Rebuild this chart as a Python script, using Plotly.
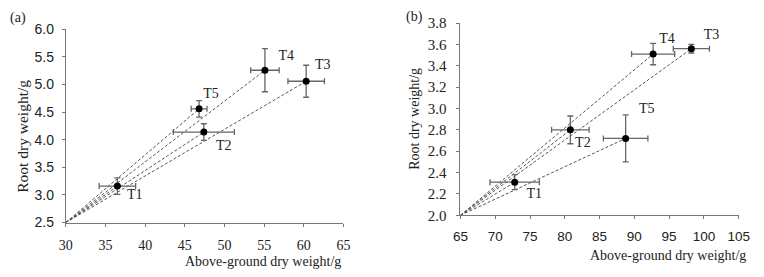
import plotly.graph_objects as go

treatments = ["T1", "T2", "T3", "T4", "T5"]

# Panel (a)
a_x = [36.5, 47.4, 60.3, 55.1, 46.8]
a_y = [3.16, 4.14, 5.06, 5.26, 4.56]
a_xerr = [2.3, 3.85, 2.3, 1.8, 1.0]
a_yerr = [0.15, 0.15, 0.29, 0.39, 0.15]
a_origin = [30, 2.5]
a_lab_x = [38.7, 49.9, 62.4, 57.8, 48.3]
a_lab_y = [2.99, 3.88, 5.35, 5.50, 4.82]

# Panel (b)
b_x = [72.8, 80.8, 98.2, 92.7, 88.75]
b_y = [2.31, 2.80, 3.56, 3.51, 2.72]
b_xerr = [3.55, 2.7, 2.6, 3.1, 3.2]
b_yerr = [0.07, 0.13, 0.04, 0.10, 0.22]
b_origin = [65, 2.0]
b_lab_x = [75.6, 82.6, 101.1, 94.7, 91.8]
b_lab_y = [2.19, 2.67, 3.68, 3.65, 2.99]

W, H = 764, 277
fig = go.Figure()

def add_panel(xs, ys, xe, ye, origin, lx, ly, xa, ya):
    for x, y in zip(xs, ys):
        fig.add_trace(go.Scatter(x=[origin[0], x], y=[origin[1], y], mode="lines",
                                 line=dict(color="#555555", width=1, dash="3px,2px"),
                                 xaxis=xa, yaxis=ya, showlegend=False, hoverinfo="skip"))
    fig.add_trace(go.Scatter(x=xs, y=ys, mode="markers",
                             marker=dict(color="black", size=7),
                             error_x=dict(type="data", array=xe, color="#666666", thickness=1.3, width=3),
                             error_y=dict(type="data", array=ye, color="#666666", thickness=1.3, width=3),
                             xaxis=xa, yaxis=ya, showlegend=False))
    fig.add_trace(go.Scatter(x=lx, y=ly, mode="text", text=treatments,
                             textfont=dict(family="Liberation Serif", size=14, color="#222222"),
                             xaxis=xa, yaxis=ya, showlegend=False, hoverinfo="skip"))

add_panel(a_x, a_y, a_xerr, a_yerr, a_origin, a_lab_x, a_lab_y, "x", "y")
add_panel(b_x, b_y, b_xerr, b_yerr, b_origin, b_lab_x, b_lab_y, "x2", "y2")

axis_common = dict(showgrid=False, zeroline=False, showline=True, linecolor="#777777",
                   linewidth=1, ticks="outside", ticklen=3, tickcolor="#777777")

sans = "Liberation Sans"
serif = "Liberation Serif"

fig.update_layout(
    width=W, height=H, margin=dict(l=0, r=0, t=0, b=0),
    plot_bgcolor="white", paper_bgcolor="white",
    xaxis=dict(domain=[59.3 / W, 344 / W], range=[30, 65], dtick=5, anchor="y",
               ticklabelstandoff=7,
               tickfont=dict(family=serif, size=14, color="#222222"), **axis_common),
    yaxis=dict(domain=[1 - 227.7 / H, 1 - 22.7 / H], range=[2.5, 6.0], dtick=0.5, anchor="x",
               ticklabelstandoff=5,
               tickformat=".1f", tickfont=dict(family=sans, size=14, color="#222222"), **axis_common),
    xaxis2=dict(domain=[464 / W, 749.3 / W], range=[65, 105], dtick=5, anchor="y2",
                ticklabelstandoff=6,
                tickfont=dict(family=sans, size=13.5, color="#222222"), **axis_common),
    yaxis2=dict(domain=[1 - 220 / H, 1 - 16 / H], range=[2.0, 3.8], dtick=0.2, anchor="x2",
                ticklabelstandoff=7,
                tickformat=".1f", tickfont=dict(family=serif, size=15, color="#222222"), **axis_common),
)

ann_font = dict(family=serif, size=14, color="#222222")
annotations = [
    dict(text="(a)", x=0 / W, y=1 - 11 / H, xanchor="left", yanchor="middle", font=ann_font),
    dict(text="(b)", x=406 / W, y=1 - 10 / H, xanchor="left", yanchor="middle", font=ann_font),
    dict(text="Above-ground dry weight/g", x=344 / W, y=1 - 269 / H, xanchor="right", yanchor="middle", font=ann_font),
    dict(text="Above-ground dry weight/g", x=759 / W, y=1 - 263 / H, xanchor="right", yanchor="middle", font=ann_font),
    dict(text="Root dry weight/g", x=14 / W, y=1 - 136 / H, textangle=-90, xanchor="center", yanchor="middle",
         font=dict(family=serif, size=15.5, color="#222222")),
    dict(text="Root dry weight/g", x=417 / W, y=1 - 118 / H, textangle=-90, xanchor="center", yanchor="middle", font=ann_font),
]
for a in annotations:
    fig.add_annotation(xref="paper", yref="paper", showarrow=False, **a)

fig.write_html("out.html")
